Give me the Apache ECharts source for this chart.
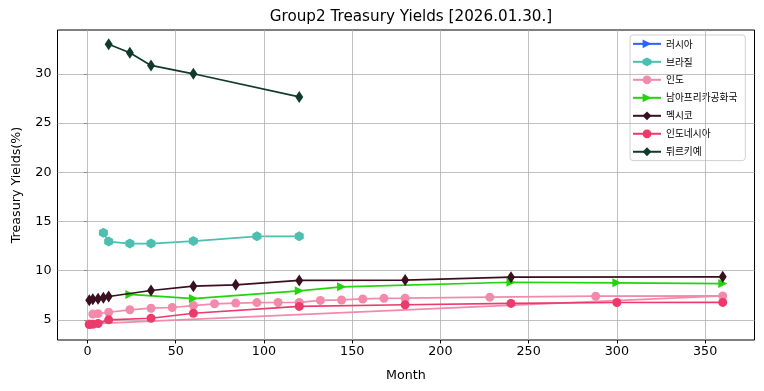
<!DOCTYPE html>
<html>
<head>
<meta charset="utf-8">
<script src="https://cdn.jsdelivr.net/npm/echarts@6.0.0/dist/echarts.min.js"></script>
<style>html,body{margin:0;padding:0;background:#fff}#c{width:764px;height:391px}</style>
</head>
<body>
<div id="c"></div>
<script>
// ---- data ----
const seriesNames = ['러시아', '브라질', '인도', '남아프리카공화국', '멕시코', '인도네시아', '튀르키예'];
const russiaMonths = [];
const russiaYields = [];
const brazilMonths = [9, 12, 24, 36, 60, 96, 120];
const brazilYields = [13.85, 12.95, 12.75, 12.75, 13.0, 13.48, 13.48];
const indiaMonths = [3, 6, 12, 24, 36, 48, 60, 72, 84, 96, 108, 120, 132, 144, 156, 168, 180, 228, 288, 360, 1];
const indiaYields = [5.58, 5.63, 5.77, 6.02, 6.18, 6.25, 6.45, 6.63, 6.7, 6.75, 6.76, 6.77, 6.97, 7.02, 7.12, 7.18, 7.2, 7.3, 7.4, 7.43, 4.58];
const safricaMonths = [24, 60, 120, 144, 240, 300, 360];
const safricaYields = [7.58, 7.16, 7.95, 8.35, 8.82, 8.76, 8.68];
const mexicoMonths = [1, 3, 6, 9, 12, 36, 60, 84, 120, 180, 240, 360];
const mexicoYields = [7.0, 7.08, 7.15, 7.25, 7.37, 7.98, 8.42, 8.56, 9.0, 9.04, 9.33, 9.37];
const indonesiaMonths = [1, 3, 6, 12, 36, 60, 120, 180, 240, 300, 360];
const indonesiaYields = [4.52, 4.55, 4.62, 5.0, 5.16, 5.67, 6.36, 6.53, 6.67, 6.76, 6.77];
const turkeyMonths = [12, 24, 36, 60, 120];
const turkeyYields = [33.0, 32.14, 30.85, 30.0, 27.65];
const xTicks = [0, 50, 100, 150, 200, 250, 300, 350];
const yTicks = [5, 10, 15, 20, 25, 30];

const colors = ['#2962ff', '#4cbfb0', '#f48aab', '#22d40c', '#3a0f20', '#ec3a6b', '#123a2c'];
const SYM_TRI = 'path://M0,0 L1,0.5 L0,1 Z';
const SYM_HEX = 'path://M0,-1 L0.866,-0.5 L0.866,0.5 L0,1 L-0.866,0.5 L-0.866,-0.5 Z';
const SYM_DIA = 'path://M0,-1 L0.62,0 L0,1 L-0.62,0 Z';
const symbols = [SYM_TRI, SYM_HEX, 'circle', SYM_TRI, SYM_DIA, 'circle', SYM_DIA];
const symSizes = [[9, 9], [9, 10], 9, [9, 9], [8, 12], 9, [8, 12]];

const allMonths = [russiaMonths, brazilMonths, indiaMonths, safricaMonths, mexicoMonths, indonesiaMonths, turkeyMonths];
const allYields = [russiaYields, brazilYields, indiaYields, safricaYields, mexicoYields, indonesiaYields, turkeyYields];

const series = seriesNames.map((name, i) => ({
  name: name,
  type: 'line',
  data: allMonths[i].map((m, j) => [m, allYields[i][j]]),
  symbol: symbols[i],
  symbolSize: symSizes[i],
  showAllSymbol: true,
  lineStyle: { width: 1.7, color: colors[i] },
  itemStyle: { color: colors[i] },
  emphasis: { disabled: true },
  animation: false,
  z: 3 + i
}));

// grid lines drawn at tick values
series.push({
  type: 'line', data: [], silent: true, animation: false,
  markLine: {
    silent: true, symbol: 'none', label: { show: false },
    lineStyle: { color: '#b0b0b0', width: 0.8, type: 'solid' },
    data: xTicks.map(v => ({ xAxis: v })).concat(yTicks.map(v => ({ yAxis: v })))
  },
  z: 1
});

const chart = echarts.init(document.getElementById('c'), null, { renderer: 'canvas' });
chart.setOption({
  backgroundColor: '#fff',
  animation: false,
  color: colors,
  textStyle: { fontFamily: 'DejaVu Sans, Noto Sans CJK KR' },
  title: {
    text: 'Group2 Treasury Yields [2026.01.30.]',
    left: 406, top: 5, textAlign: 'center',
    textStyle: { fontSize: 15.2, fontWeight: 'normal', color: '#000', fontFamily: 'DejaVu Sans' }
  },
  grid: { left: 57.5, right: 9.5, top: 30, bottom: 51, show: true, borderColor: '#000', borderWidth: 1, backgroundColor: 'transparent', containLabel: false },
  legend: {
    data: seriesNames,
    orient: 'vertical',
    left: 630, top: 35,
    itemWidth: 28, itemHeight: 11, itemGap: 8.3,
    padding: [4, 8, 4, 2],
    backgroundColor: 'rgba(255,255,255,0.9)',
    borderColor: '#d0d0d0', borderWidth: 1, borderRadius: 3,
    textStyle: { fontSize: 9.7, color: '#000', fontFamily: 'Noto Sans CJK KR' }
  },
  xAxis: {
    type: 'value', min: -17, max: 378,
    name: 'Month', nameLocation: 'middle', nameGap: 29,
    nameTextStyle: { fontSize: 12.7, color: '#000' },
    axisLine: { show: false },
    axisTick: { show: true, length: 3.5, lineStyle: { color: '#000' }, customValues: xTicks },
    axisLabel: { fontSize: 12.7, color: '#000', margin: 5, customValues: xTicks },
    splitLine: { show: false }
  },
  yAxis: {
    type: 'value', min: 2.95, max: 34.45,
    name: 'Treasury Yields(%)', nameLocation: 'middle', nameGap: 34,
    nameTextStyle: { fontSize: 12.7, color: '#000' },
    axisLine: { show: false },
    axisTick: { show: true, length: 3.5, lineStyle: { color: '#000' }, customValues: yTicks },
    axisLabel: { fontSize: 12.7, color: '#000', margin: 6, customValues: yTicks },
    splitLine: { show: false }
  },
  series: series
});
</script>
</body>
</html>
